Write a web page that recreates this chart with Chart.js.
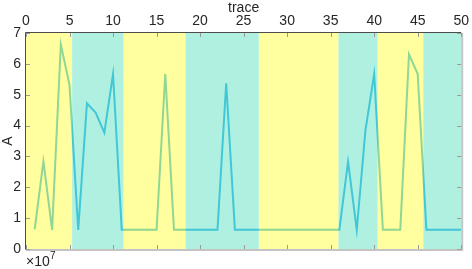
<!DOCTYPE html>
<html>
<head>
<meta charset="utf-8">
<script src="https://cdn.jsdelivr.net/npm/chart.js@4/dist/chart.umd.min.js"></script>
<style>
  html, body { margin: 0; padding: 0; background: #fff; }
  #wrap { width: 472px; height: 269px; position: relative; }
</style>
</head>
<body>
<div id="wrap"><canvas id="graphCanvas"></canvas></div>
<script>
// trace index and amplitude (x 1e7)
var trace = [];
for (var i = 1; i <= 50; i++) trace.push(i);
var amp = [0.64, 2.84, 0.62, 6.63, 5.31, 0.62, 4.72, 4.42, 3.77, 5.67,
           0.62, 0.62, 0.62, 0.62, 0.62, 5.67, 0.62, 0.62, 0.62, 0.62,
           0.62, 0.62, 5.37, 0.62, 0.62, 0.62, 0.62, 0.62, 0.62, 0.62,
           0.62, 0.62, 0.62, 0.62, 0.62, 0.62, 2.83, 0.62, 3.85, 5.67,
           0.62, 0.62, 0.62, 6.31, 5.67, 0.62, 0.62, 0.62, 0.62, 0.62];

// background bands: edges along trace axis and their (translucent) colours
var bandEdges = [0, 5.3, 11.2, 18.35, 26.75, 35.9, 40.4, 45.65, 50];
var yellowBand = 'rgba(255,255,0,0.376)';
var cyanBand = 'rgba(45,215,175,0.376)';
var bandColors = [yellowBand, cyanBand, yellowBand, cyanBand, yellowBand, cyanBand, yellowBand, cyanBand];

var xTicks = [0, 5, 10, 15, 20, 25, 30, 35, 40, 45, 50];
var yTicks = [0, 1, 2, 3, 4, 5, 6, 7];

var points = [];
for (var i = 0; i < trace.length; i++) points.push({x: trace[i], y: amp[i]});

var fontFam = "'Liberation Sans', Arial, sans-serif";

var bandPlugin = {
  id: 'bands',
  // bands are painted over the line, so the line shows through tinted
  afterDatasetsDraw: function (chart) {
    var ctx = chart.ctx, xs = chart.scales.x, ys = chart.scales.y;
    ctx.save();
    for (var i = 0; i < bandColors.length; i++) {
      var x0 = xs.getPixelForValue(bandEdges[i]);
      var x1 = xs.getPixelForValue(bandEdges[i + 1]);
      ctx.fillStyle = bandColors[i];
      ctx.fillRect(x0, ys.top, x1 - x0, ys.bottom - ys.top);
    }
    ctx.restore();
  },
  afterDraw: function (chart) {
    var ctx = chart.ctx, xs = chart.scales.x, ys = chart.scales.y;
    var L = xs.left, R = xs.right, T = ys.top, B = ys.bottom;
    ctx.save();
    // box
    ctx.strokeStyle = '#c4c4c4';
    ctx.lineWidth = 2;
    ctx.beginPath();
    ctx.moveTo(L, B + 1); ctx.lineTo(R + 1, B + 1); ctx.lineTo(R + 1, T);
    ctx.stroke();
    ctx.strokeStyle = '#4d4d4d';
    ctx.lineWidth = 1;
    ctx.beginPath();
    ctx.moveTo(L - 0.5, B + 0.5); ctx.lineTo(L - 0.5, T - 0.5); ctx.lineTo(R, T - 0.5);
    ctx.stroke();
    // inner ticks
    ctx.strokeStyle = '#9a9a9a';
    ctx.beginPath();
    for (var i = 0; i < xTicks.length; i++) {
      var px = Math.round(xs.getPixelForValue(xTicks[i])) + 0.5;
      ctx.moveTo(px, T); ctx.lineTo(px, T + 4);
      ctx.moveTo(px, B); ctx.lineTo(px, B - 4);
    }
    for (var j = 0; j < yTicks.length; j++) {
      var py = Math.round(ys.getPixelForValue(yTicks[j])) + 0.5;
      ctx.moveTo(L, py); ctx.lineTo(L + 4, py);
      ctx.moveTo(R, py); ctx.lineTo(R - 4, py);
    }
    ctx.stroke();
    // exponent label
    ctx.fillStyle = '#262626';
    ctx.font = '14px ' + fontFam;
    ctx.textBaseline = 'alphabetic';
    ctx.fillText('\u00d710', 26, 266);
    ctx.font = '10px ' + fontFam;
    ctx.fillText('7', 50, 259);
    ctx.restore();
  }
};

new Chart(document.getElementById('graphCanvas'), {
  type: 'line',
  data: {
    datasets: [{
      data: points,
      borderColor: 'rgb(77,190,238)',
      borderWidth: 2,
      pointRadius: 0,
      tension: 0,
      fill: false
    }]
  },
  options: {
    responsive: true,
    maintainAspectRatio: false,
    animation: false,
    layout: { padding: { left: 0, right: 10, top: 0, bottom: 20 } },
    plugins: { legend: { display: false }, tooltip: { enabled: false } },
    scales: {
      x: {
        type: 'linear',
        position: 'top',
        min: 0, max: 50,
        afterBuildTicks: function (s) { s.ticks = xTicks.map(function (v) { return {value: v}; }); },
        afterFit: function (s) { s.height = 33; },
        grid: { display: false, drawTicks: false, tickLength: 0 },
        border: { display: false },
        ticks: { color: '#262626', font: { size: 14, family: fontFam }, padding: 3, maxRotation: 0 },
        title: { display: true, text: 'trace', color: '#262626', font: { size: 14, family: fontFam }, padding: { top: 0, bottom: 0 } }
      },
      y: {
        min: 0, max: 7,
        afterBuildTicks: function (s) { s.ticks = yTicks.map(function (v) { return {value: v}; }); },
        afterFit: function (s) { s.width = 26; },
        grid: { display: false, drawTicks: false, tickLength: 0 },
        border: { display: false },
        ticks: { color: '#262626', font: { size: 14, family: fontFam }, padding: 5 },
        title: { display: true, text: 'A', color: '#262626', font: { size: 14, family: fontFam }, padding: { top: 0, bottom: 0 } }
      }
    }
  },
  plugins: [bandPlugin]
});
</script>
</body>
</html>
